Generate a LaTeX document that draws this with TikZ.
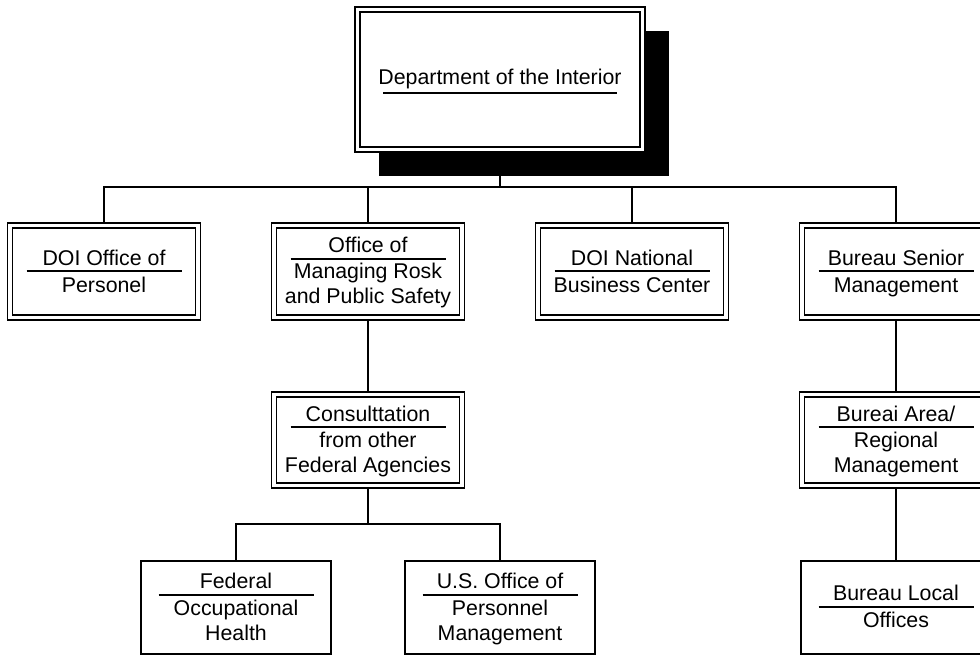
\documentclass[tikz,border=0pt]{standalone}
\usepackage{fontspec}
\setmainfont{Liberation Sans}
\usetikzlibrary{backgrounds}
\begin{document}
\begin{tikzpicture}[x=0.75pt,y=-0.75pt,
  dbox/.style={draw, double, line width=1.3pt, double distance=2.45pt, fill=white, inner sep=0pt, minimum width=141pt, minimum height=69pt},
  dbox3/.style={dbox, minimum height=68.25pt},
  topbox/.style={dbox, minimum width=213.75pt, minimum height=105pt},
  sbox/.style={draw, line width=1.5pt, fill=white, inner sep=0pt, minimum width=142.5pt, minimum height=69.75pt},
  shadowbox/.style={fill=black, inner sep=0pt, minimum width=217.5pt, minimum height=108.75pt},
  txt/.style={anchor=base, inner sep=0pt, font=\fontsize{16pt}{19pt}\selectfont},
  uline/.style={line width=1.1pt},
  conn/.style={line width=1.5pt}]
\useasboundingbox (0,0) rectangle (980,656);

% boxes
\node[shadowbox] (shadow) at (524,103.5) {};
\node[topbox] (doi) at (500,79.5) {};
\node[dbox] (n1) at (104,271.5) {};
\node[dbox] (n2) at (368,271.5) {};
\node[dbox] (n3) at (632,271.5) {};
\node[dbox] (n4) at (896,271.5) {};
\node[dbox3] (n5) at (368,440) {};
\node[dbox3] (n6) at (896,440) {};
\node[sbox] (n7) at (236,607.5) {};
\node[sbox] (n8) at (500,607.5) {};
\node[sbox] (n9) at (896,607.5) {};

% texts
\node[txt] (doit) at (500,85) {Department of the Interior};
\draw[uline] (383,93) -- (617,93);

\node[txt] (n1a) at (104,265) {DOI Office of};
\node[txt] (n1b) at (104,292) {Personel};
\draw[uline] (26.5,271) -- (181.5,271);

\node[txt] (n2a) at (368,252) {Office of};
\node[txt] (n2b) at (368,278) {Managing Rosk};
\node[txt] (n2c) at (368,303) {and Public Safety};
\draw[uline] (290.5,259) -- (445.5,259);

\node[txt] (n3a) at (632,265) {DOI National};
\node[txt] (n3b) at (632,292) {Business Center};
\draw[uline] (554.5,271) -- (709.5,271);

\node[txt] (n4a) at (896,265) {Bureau Senior};
\node[txt] (n4b) at (896,292) {Management};
\draw[uline] (818.5,271) -- (973.5,271);

\node[txt] (n5a) at (368,421) {Consulttation};
\node[txt] (n5b) at (368,447) {from other};
\node[txt] (n5c) at (368,472) {Federal Agencies};
\draw[uline] (290.5,427) -- (445.5,427);

\node[txt] (n6a) at (896,421) {Bureai Area/};
\node[txt] (n6b) at (896,447) {Regional};
\node[txt] (n6c) at (896,472) {Management};
\draw[uline] (818.5,427) -- (973.5,427);

\node[txt] (n7a) at (236,588) {Federal};
\node[txt] (n7b) at (236,615) {Occupational};
\node[txt] (n7c) at (236,640) {Health};
\draw[uline] (158.5,595) -- (313.5,595);

\node[txt] (n8a) at (500,588) {U.S. Office of};
\node[txt] (n8b) at (500,615) {Personnel};
\node[txt] (n8c) at (500,640) {Management};
\draw[uline] (422.5,595) -- (577.5,595);

\node[txt] (n9a) at (896,600) {Bureau Local};
\node[txt] (n9b) at (896,627) {Offices};
\draw[uline] (818.5,607) -- (973.5,607);

% connectors
\coordinate (b1) at (500,187);
\coordinate (b2) at (368,524);
\begin{pgfonlayer}{background}
\fill[white] (0,0) rectangle (980,656);
\draw[conn] (doi.center) -- (b1) -| (n1.center);
\draw[conn] (b1) -| (n2.center);
\draw[conn] (b1) -| (n3.center);
\draw[conn] (b1) -| (n4.center);
\draw[conn] (n2.center) -- (n5.center);
\draw[conn] (n5.center) -- (b2) -| (n7.center);
\draw[conn] (b2) -| (n8.center);
\draw[conn] (n4.center) -- (n6.center) -- (n9.center);
\end{pgfonlayer}
\end{tikzpicture}
\end{document}
